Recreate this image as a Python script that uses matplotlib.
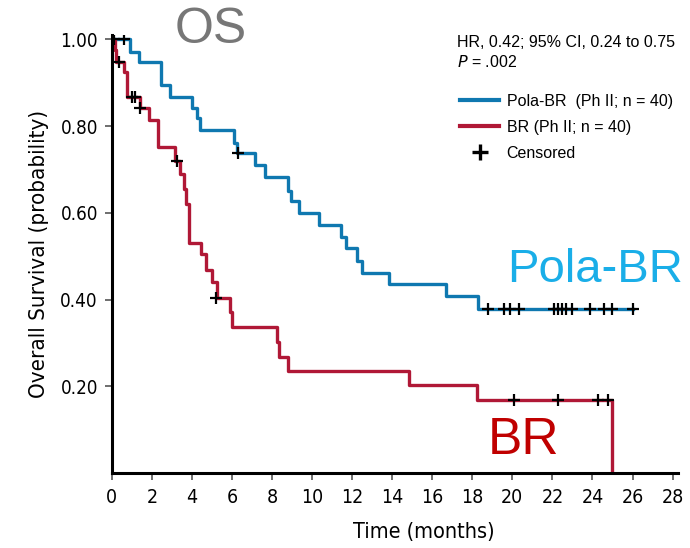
import matplotlib
matplotlib.use("Agg")
import matplotlib.pyplot as plt
from matplotlib.lines import Line2D

# Kaplan-Meier step points (time in months, survival after the event)
pola_t = [0, 0.92, 1.35, 2.45, 2.9, 4.0, 4.25, 4.4, 6.1, 6.25, 7.15, 7.65, 8.8, 8.93,
          9.35, 10.35, 11.45, 11.68, 12.22, 12.5, 13.82, 16.68, 18.27, 26.0]
pola_s = [1.0, 0.972, 0.947, 0.894, 0.868, 0.841, 0.818, 0.79, 0.76, 0.737, 0.71, 0.683,
          0.65, 0.627, 0.60, 0.572, 0.544, 0.518, 0.488, 0.461, 0.435, 0.408, 0.379, 0.379]
pola_cens_t = [0.1, 0.6, 6.3, 18.8, 19.6, 19.9, 20.35, 22.07, 22.27, 22.5, 22.7, 23.0,
               23.9, 24.6, 25.0, 26.0]
pola_cens_s = [1.0, 1.0, 0.737] + [0.379] * 13

br_t = [0, 0.15, 0.22, 0.6, 0.77, 1.4, 1.85, 2.33, 3.18, 3.4, 3.63, 3.73, 3.85, 3.88,
        4.43, 4.7, 5.0, 5.25, 5.9, 6.0, 8.25, 8.35, 8.82, 14.85, 18.23, 25.0]
br_s = [1.0, 0.976, 0.949, 0.925, 0.868, 0.841, 0.813, 0.752, 0.719, 0.689, 0.656, 0.621,
        0.59, 0.53, 0.504, 0.469, 0.44, 0.404, 0.371, 0.336, 0.303, 0.268, 0.234, 0.202,
        0.168, 0.0]
br_cens_t = [0.35, 1.0, 1.15, 1.4, 3.25, 5.2, 20.1, 22.27, 24.3, 24.8]
br_cens_s = [0.949, 0.868, 0.868, 0.841, 0.719, 0.404, 0.168, 0.168, 0.168, 0.168]

xticks = list(range(0, 30, 2))
yticks = [0.2, 0.4, 0.6, 0.8, 1.0]

blue = "#0f78b0"
red = "#b01836"
sans = ["Liberation Sans", "DejaVu Sans"]
cond = dict(family="DejaVu Sans", stretch="condensed")

fig = plt.figure(figsize=(6.9, 5.48), dpi=100)
ax = fig.add_axes([0.162, 0.137, 0.82, 0.799])

ax.step(pola_t, pola_s, where="post", color=blue, lw=2.4)
ax.step(br_t, br_s, where="post", color=red, lw=2.4)
ax.plot(pola_cens_t, pola_cens_s, "+", color="black", ms=9, mew=1.6)
ax.plot(br_cens_t, br_cens_s, "+", color="black", ms=9, mew=1.6)

ax.set_xlim(0, 28.25)
ax.set_ylim(0, 1.01)
ax.set_xticks(xticks)
ax.set_xticklabels([str(v) for v in xticks], fontsize=14, **cond)
ax.set_yticks(yticks)
ax.set_yticklabels(["%.2f" % v for v in yticks], fontsize=13.5, **cond)
ax.tick_params(axis="both", direction="out", length=5, width=1.2, color="#555555")
ax.tick_params(axis="x", pad=6)
ax.tick_params(axis="y", pad=5)
for side in ["top", "right"]:
    ax.spines[side].set_visible(False)
for side in ["left", "bottom"]:
    ax.spines[side].set_linewidth(2.2)
    ax.spines[side].set_color("black")

ax.set_xlabel("Time (months)", fontsize=15.5, **cond)
ax.xaxis.set_label_coords(0.551, -0.112)
ax.set_ylabel("Overall Survival (probability)", fontsize=16, labelpad=8, **cond)

fig.text(0.305, 0.946, "OS", color="#777777", fontsize=36, family=sans,
         ha="center", va="center")
fig.text(0.862, 0.507, "Pola-BR", color="#1aaee8", fontsize=34, family=sans,
         ha="center", va="center")
fig.text(0.758, 0.197, "BR", color="#c00000", fontsize=37, family=sans,
         ha="center", va="center")

fig.text(0.662, 0.923, "HR, 0.42; 95% CI, 0.24 to 0.75", fontsize=11.5, family=sans,
         va="center")
fig.text(0.662, 0.886, "$\\it{P}$ = .002", fontsize=11.5, family=sans, va="center")

handles = [Line2D([], [], color=blue, lw=3),
           Line2D([], [], color=red, lw=3),
           Line2D([], [], color="black", marker="+", ls="none", ms=11, mew=2.4)]
labels = ["Pola-BR  (Ph II; n = 40)", "BR (Ph II; n = 40)", "Censored"]
fig.legend(handles, labels, loc="upper left", bbox_to_anchor=(0.658, 0.841),
           frameon=False, prop={"family": sans, "size": 11.5}, handlelength=2.4,
           handletextpad=0.5, labelspacing=0.7, borderaxespad=0)

fig.savefig("out.png", dpi=100)
